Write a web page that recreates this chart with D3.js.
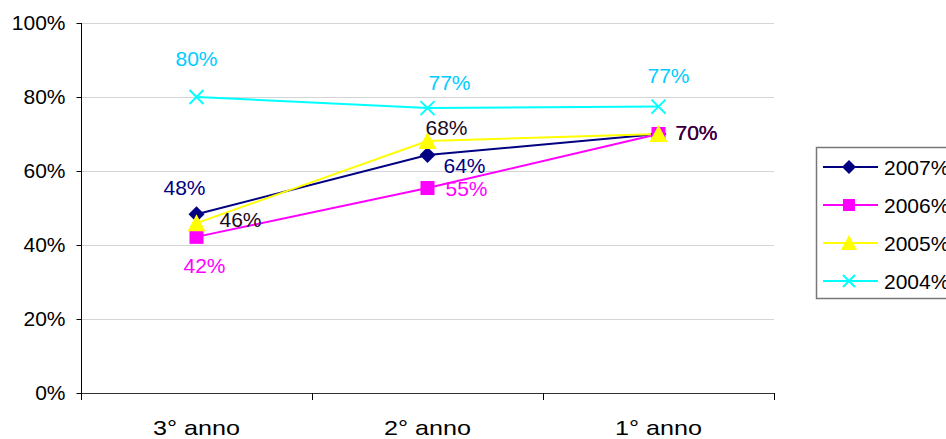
<!DOCTYPE html>
<html><head><meta charset="utf-8">
<script src="https://cdn.jsdelivr.net/npm/d3@7"></script>
<style>html,body{margin:0;padding:0;background:#fff;}svg{display:block;font-family:"Liberation Sans",Arial,sans-serif;}</style>
</head><body>
<svg id="c" width="946" height="439"></svg>
<script>
const categories = ["3° anno", "2° anno", "1° anno"];
const seriesNames = ["2007%", "2006%", "2005%", "2004%"];
const s2007 = [48.3, 64.3, 70];
const s2006 = [42.2, 55.4, 70];
const s2005 = [45.9, 68.1, 70];
const s2004 = [80, 77, 77.4];
const yTicks = [0, 20, 40, 60, 80, 100];
const labels2007 = ["48%", "64%", "70%"];
const labels2006 = ["42%", "55%", "70%"];
const labels2005 = ["46%", "68%", "70%"];
const labels2004 = ["80%", "77%", "77%"];

// styles (not data)
const styles = [
  {line: "#000080", label: "#000080", marker: "diamond", off: [[-12,-27],[37,10],[38,-2]]},
  {line: "#FF00FF", label: "#FF00FF", marker: "square",  off: [[8,29],[39,0],[38,-2]]},
  {line: "#FFFF00", label: "#1a0a20", marker: "triangle",off: [[44,-4],[19,-14],[38,-2]]},
  {line: "#00FFFF", label: "#00CCFF", marker: "cross",   off: [[0,-39],[22,-26],[10,-31]]}
];
const values = [s2007, s2006, s2005, s2004];
const labelTexts = [labels2007, labels2006, labels2005, labels2004];

const svg = d3.select("#c");
const x = d3.scaleBand().domain(categories).range([81, 774]);
const y = d3.scaleLinear().domain([0, 100]).range([393, 23]);
const cx = c => x(c) + x.bandwidth() / 2;

// gridlines
svg.append("g").selectAll("line").data(yTicks.filter(t => t > 0)).join("line")
  .attr("x1", 81).attr("x2", 774)
  .attr("y1", d => Math.round(y(d)) + 0.5).attr("y2", d => Math.round(y(d)) + 0.5)
  .attr("stroke", "#d4d4d4").attr("stroke-width", 1);

// y axis
const yAxis = svg.append("g").attr("transform", "translate(81.5,0)")
  .call(d3.axisLeft(y).tickValues(yTicks).tickFormat(d => d + "%").tickSize(5).tickPadding(11));
yAxis.select(".domain").attr("stroke", "#000").attr("d", "M0,23V399");
yAxis.selectAll(".tick line").attr("stroke", "#000");
yAxis.selectAll(".tick text").attr("font-size", 21).attr("fill", "#000").attr("font-family", "Liberation Sans, Arial, sans-serif");

// x axis
const xAxis = svg.append("g").attr("transform", "translate(0,393.5)")
  .call(d3.axisBottom(x).tickSize(0).tickPadding(27));
xAxis.select(".domain").attr("stroke", "#333").attr("d", "M81,0H774");
xAxis.selectAll(".tick text").attr("font-size", 21).attr("fill", "#000")
  .attr("font-family", "Liberation Sans, Arial, sans-serif")
  .attr("textLength", 87).attr("lengthAdjust", "spacingAndGlyphs");
const xt = [...categories.map(c => x(c)), x(categories[2]) + x.bandwidth()];
svg.append("g").selectAll("line").data(xt).join("line")
  .attr("x1", d => Math.round(d) + 0.5).attr("x2", d => Math.round(d) + 0.5)
  .attr("y1", 393).attr("y2", 400).attr("stroke", "#000");

function marker(g, type, color, px, py, s) {
  const h = s / 2;
  if (type === "diamond") {
    g.append("path").attr("d", `M${px},${py-h-1}L${px+h+1},${py}L${px},${py+h+1}L${px-h-1},${py}Z`).attr("fill", color);
  } else if (type === "square") {
    g.append("rect").attr("x", px - h).attr("y", py - h).attr("width", s).attr("height", s).attr("fill", color);
  } else if (type === "triangle") {
    g.append("path").attr("d", `M${px},${py - h - 2}L${px + h + 2},${py + h + 1}L${px - h - 2},${py + h + 1}Z`).attr("fill", color);
  } else if (type === "cross") {
    g.append("path").attr("d", `M${px-h},${py-h}L${px+h},${py+h}M${px-h},${py+h}L${px+h},${py-h}`)
      .attr("stroke", color).attr("stroke-width", 2);
  }
}

// series lines
const line = d3.line().x((d, i) => cx(categories[i])).y(d => y(d));
values.forEach((vals, si) => {
  svg.append("path").datum(vals).attr("d", line).attr("fill", "none")
    .attr("stroke", styles[si].line).attr("stroke-width", 2);
});
// markers
[3, 0, 1, 2].forEach(si => {
  const g = svg.append("g");
  values[si].forEach((v, i) => marker(g, styles[si].marker, styles[si].line, cx(categories[i]), y(v), 14));
});
// labels
[0, 1, 2, 3].forEach(si => {
  const g = svg.append("g");
  values[si].forEach((v, i) => {
    g.append("text").attr("x", cx(categories[i]) + styles[si].off[i][0]).attr("y", y(v) + styles[si].off[i][1])
      .attr("text-anchor", "middle").attr("dominant-baseline", "central")
      .attr("font-size", 21).attr("fill", styles[si].label).text(labelTexts[si][i]);
  });
});

// legend
const lg = svg.append("g");
lg.append("rect").attr("x", 816.5).attr("y", 147.5).attr("width", 140).attr("height", 151)
  .attr("fill", "#fff").attr("stroke", "#777").attr("stroke-width", 1.5);
const ly = d3.scalePoint().domain(seriesNames).range([167, 281]);
seriesNames.forEach((n, si) => {
  const yy = ly(n);
  lg.append("line").attr("x1", 823).attr("x2", 878).attr("y1", yy).attr("y2", yy)
    .attr("stroke", styles[si].line).attr("stroke-width", 2);
  marker(lg, styles[si].marker, styles[si].line, 849, yy, 12);
  lg.append("text").attr("x", 884).attr("y", yy).attr("dominant-baseline", "central")
    .attr("font-size", 21).attr("fill", "#000").text(n);
});
</script>
</body></html>
